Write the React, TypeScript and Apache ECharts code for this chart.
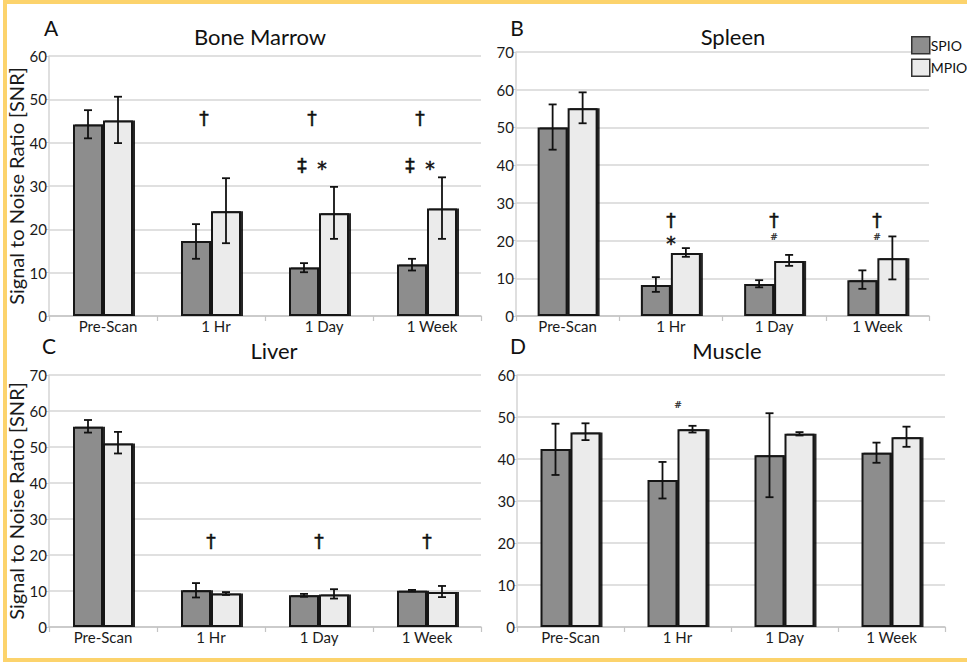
import React, { useEffect, useRef } from "react";
import * as echarts from "echarts";

// ---------- data ----------
const categories = ["Pre-Scan", "1 Hr", "1 Day", "1 Week"];
const seriesNames = ["SPIO", "MPIO"];

const boneSpio = [44.2, 17.3, 11.2, 11.9];
const boneSpioHi = [47.5, 21.2, 12.2, 13.2];
const boneSpioLo = [41.0, 13.2, 10.1, 10.5];
const boneMpio = [45.1, 24.2, 23.7, 24.8];
const boneMpioHi = [50.6, 31.8, 29.8, 32.0];
const boneMpioLo = [39.9, 16.8, 17.8, 17.8];

const spleenSpio = [50.0, 8.2, 8.5, 9.5];
const spleenSpioHi = [56.1, 10.3, 9.5, 12.1];
const spleenSpioLo = [44.1, 6.4, 7.6, 7.2];
const spleenMpio = [55.1, 16.7, 14.6, 15.3];
const spleenMpioHi = [59.3, 18.0, 16.2, 21.1];
const spleenMpioLo = [51.1, 15.7, 13.3, 9.7];

const liverSpio = [55.6, 10.2, 8.8, 10.1];
const liverSpioHi = [57.5, 12.2, 9.2, 10.3];
const liverSpioLo = [54.0, 8.2, 8.4, 9.9];
const liverMpio = [51.0, 9.3, 9.0, 9.7];
const liverMpioHi = [54.2, 9.7, 10.5, 11.4];
const liverMpioLo = [48.2, 8.9, 7.9, 8.3];

const muscleSpio = [42.4, 35.0, 40.9, 41.5];
const muscleSpioHi = [48.4, 39.3, 50.9, 43.9];
const muscleSpioLo = [36.2, 30.6, 30.9, 39.1];
const muscleMpio = [46.3, 47.1, 46.0, 45.2];
const muscleMpioHi = [48.5, 47.9, 46.4, 47.7];
const muscleMpioLo = [44.5, 46.3, 45.6, 42.9];

// significance marks: [category index, value, mark]
const boneMarks: [number, number, string][] = [
  [1, 45.6, "†"], [2, 45.8, "†"], [3, 45.8, "†"],
  [2, 34.8, "‡"], [3, 34.8, "‡"],
  [2, 35.2, "*"], [3, 35.2, "*"],
];
const spleenMarks: [number, number, string][] = [
  [1, 25.5, "†"], [2, 25.5, "†"], [3, 25.5, "†"],
  [1, 20.4, "*"], [2, 21.0, "#"], [3, 21.0, "#"],
];
const liverMarks: [number, number, string][] = [
  [1, 23.9, "†"], [2, 23.9, "†"], [3, 23.9, "†"],
];
const muscleMarks: [number, number, string][] = [[1, 52.9, "#"]];

const panelTitles = ["Bone Marrow", "Spleen", "Liver", "Muscle"];
const panelLetters = ["A", "B", "C", "D"];
const axisMax = [60, 70, 70, 60];
const axisInterval = 10;
const yAxisTitle = "Signal to Noise Ratio [SNR]";

// ---------- layout / style ----------
const FONT = "Lato";
const MARK_FONT = "DejaVu Sans";
const grids = [
  { left: 49, top: 56, width: 432, height: 260 },
  { left: 516, top: 52, width: 413, height: 264 },
  { left: 49, top: 375, width: 432, height: 252 },
  { left: 517, top: 375, width: 428, height: 252 },
];
const titlePos = [
  [260, 38], [733, 38], [274, 352], [727, 352],
];
const letterPos = [
  [51, 29], [517, 29], [49, 347], [518, 347],
];
// horizontal pixel nudges for marks in panel A (style only)
const markNudgeA: Record<string, number> = { "†": -7, "‡": -17, "*": 3 };
const markSize: Record<string, number> = { "†": 19, "‡": 19, "*": 19, "#": 9 };

const SPIO_COLOR = "#8d8d8d";
const MPIO_COLOR = "#ebebeb";
const EDGE = "#151515";
const BAR_W = 30;

export default function App() {
  const ref = useRef<HTMLDivElement>(null);

  useEffect(() => {
    if (!ref.current) return;
    const chart = echarts.init(ref.current, undefined, { renderer: "svg" });

    const panels = [
      { spio: boneSpio, spioHi: boneSpioHi, spioLo: boneSpioLo, mpio: boneMpio, mpioHi: boneMpioHi, mpioLo: boneMpioLo, marks: boneMarks },
      { spio: spleenSpio, spioHi: spleenSpioHi, spioLo: spleenSpioLo, mpio: spleenMpio, mpioHi: spleenMpioHi, mpioLo: spleenMpioLo, marks: spleenMarks },
      { spio: liverSpio, spioHi: liverSpioHi, spioLo: liverSpioLo, mpio: liverMpio, mpioHi: liverMpioHi, mpioLo: liverMpioLo, marks: liverMarks },
      { spio: muscleSpio, spioHi: muscleSpioHi, spioLo: muscleSpioLo, mpio: muscleMpio, mpioHi: muscleMpioHi, mpioLo: muscleMpioLo, marks: muscleMarks },
    ];

    const xAxes: any[] = [];
    const yAxes: any[] = [];
    const series: any[] = [];

    panels.forEach((p, i) => {
      xAxes.push({
        type: "category",
        gridIndex: i,
        data: categories,
        axisLine: { lineStyle: { color: "#c4c4c4", width: 1.5 } },
        axisTick: { show: true, length: 5, lineStyle: { color: "#c4c4c4", width: 1.2 } },
        axisLabel: {
          color: "#1a1a1a",
          fontFamily: FONT,
          fontSize: 15,
          margin: 2,
          padding: i === 0 ? [0, 0, 0, 10] : 0,
        },
      });
      yAxes.push({
        type: "value",
        gridIndex: i,
        min: 0,
        max: axisMax[i],
        interval: axisInterval,
        name: i % 2 === 0 ? yAxisTitle : "",
        nameLocation: "middle",
        nameRotate: 90,
        nameGap: 12,
        nameTextStyle: { fontFamily: FONT, fontSize: 20, color: "#1a1a1a" },
        axisLine: { show: true, lineStyle: { color: "#d4d4d4", width: 1.5 } },
        axisTick: { show: true, length: 3, lineStyle: { color: "#cfcfcf" } },
        axisLabel: { color: "#1a1a1a", fontFamily: FONT, fontSize: 15, margin: 2 },
        splitLine: { lineStyle: { color: "#d6d6d6", width: 1.5 } },
      });

      const barStyle = (color: string) => ({
        color,
        borderColor: EDGE,
        borderWidth: 2,
        shadowColor: "rgba(0,0,0,0.85)",
        shadowOffsetX: 2,
        shadowOffsetY: 0,
        shadowBlur: 0.5,
      });

      series.push({
        name: seriesNames[0],
        type: "bar",
        xAxisIndex: i,
        yAxisIndex: i,
        data: p.spio,
        barWidth: BAR_W,
        barGap: "0%",
        itemStyle: barStyle(SPIO_COLOR),
        z: 2,
      });
      series.push({
        name: seriesNames[1],
        type: "bar",
        xAxisIndex: i,
        yAxisIndex: i,
        data: p.mpio,
        barWidth: BAR_W,
        barGap: "0%",
        itemStyle: barStyle(MPIO_COLOR),
        z: 2,
      });

      const errSeries = (lo: number[], hi: number[], offset: number) => ({
        type: "custom",
        xAxisIndex: i,
        yAxisIndex: i,
        z: 5,
        silent: true,
        itemStyle: { color: "#111" },
        encode: { x: 0, y: [1, 2] },
        data: lo.map((l, k) => [k, l, hi[k]]),
        renderItem: (params: any, api: any) => {
          const c = api.value(0);
          const a = api.coord([c, api.value(1)]);
          const b = api.coord([c, api.value(2)]);
          const x = a[0] + offset;
          const cap = 4;
          const st = { stroke: "#111", lineWidth: 1.8 };
          return {
            type: "group",
            children: [
              { type: "line", shape: { x1: x, y1: a[1], x2: x, y2: b[1] }, style: st },
              { type: "line", shape: { x1: x - cap, y1: a[1], x2: x + cap, y2: a[1] }, style: st },
              { type: "line", shape: { x1: x - cap, y1: b[1], x2: x + cap, y2: b[1] }, style: st },
            ],
          };
        },
      });
      series.push(errSeries(p.spioLo, p.spioHi, -BAR_W / 2));
      series.push(errSeries(p.mpioLo, p.mpioHi, BAR_W / 2));

      const marks = p.marks;
      series.push({
        type: "custom",
        xAxisIndex: i,
        yAxisIndex: i,
        z: 6,
        silent: true,
        itemStyle: { color: "#111" },
        data: marks.map((m) => [m[0], m[1]]),
        renderItem: (params: any, api: any) => {
          const m = marks[params.dataIndex];
          const pt = api.coord([api.value(0), api.value(1)]);
          const sym = m[2];
          const size = markSize[sym] || 18;
          const dx = i === 0 ? markNudgeA[sym] || 0 : 0;
          const dy = sym === "*" ? size * 0.22 : 0;
          return {
            type: "text",
            x: Math.round(pt[0] + dx),
            y: Math.round(pt[1] + dy),
            style: {
              text: sym,
              fontFamily: MARK_FONT,
              fontSize: size,
              fill: "#111111",
              stroke: "#111111",
              lineWidth: sym === "#" ? 0.2 : 0.5,
              align: "center",
              verticalAlign: "middle",
            },
          };
        },
      });
    });

    const titles: any[] = [];
    panelTitles.forEach((t, i) => {
      titles.push({
        text: t,
        left: titlePos[i][0],
        top: titlePos[i][1] - 13,
        textAlign: "center",
        padding: 0,
        textStyle: { fontFamily: FONT, fontSize: 22, fontWeight: "normal", color: "#111" },
      });
      titles.push({
        text: panelLetters[i],
        left: letterPos[i][0],
        top: letterPos[i][1] - 12,
        textAlign: "center",
        padding: 0,
        textStyle: { fontFamily: FONT, fontSize: 21, fontWeight: "normal", color: "#111" },
      });
    });

    chart.setOption({
      animation: false,
      backgroundColor: "#ffffff",
      title: titles,
      legend: {
        data: seriesNames,
        orient: "vertical",
        left: 911,
        top: 36,
        padding: 0,
        itemGap: 4,
        itemWidth: 18,
        itemHeight: 17,
        icon: "rect",
        textStyle: { fontFamily: FONT, fontSize: 14, color: "#111", padding: [0, 0, 0, -4] },
        itemStyle: { borderColor: "#333", borderWidth: 1.5, shadowBlur: 0, shadowOffsetX: 0 },
      },
      grid: grids.map((g) => ({ ...g, containLabel: false })),
      xAxis: xAxes,
      yAxis: yAxes,
      series,
      graphic: [
        {
          type: "rect",
          z: -1,
          silent: true,
          shape: { x: 5, y: 2, width: 1000, height: 658 },
          style: { fill: "none", stroke: "#fcd36c", lineWidth: 4 },
        },
      ],
    });

    return () => chart.dispose();
  }, []);

  return (
    <div
      ref={ref}
      style={{ position: "absolute", left: 0, top: 0, width: 967, height: 664, background: "#fff" }}
    />
  );
}
